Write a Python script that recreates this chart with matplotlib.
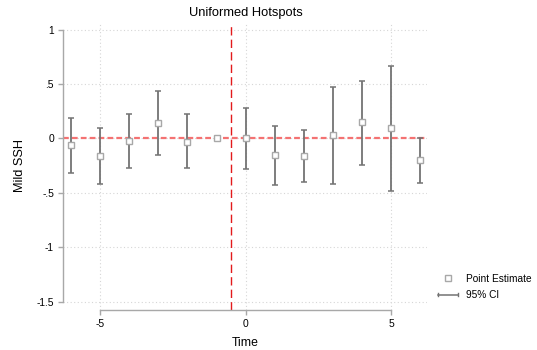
import numpy as np
import matplotlib
matplotlib.use("Agg")
import matplotlib.pyplot as plt
from matplotlib.lines import Line2D
from matplotlib.legend_handler import HandlerBase

plt.rcParams['font.family'] = ['Liberation Sans', 'DejaVu Sans']

# Event-study coefficients (reference period -1 normalised to zero)
time = [-6, -5, -4, -3, -2, -1, 0, 1, 2, 3, 4, 5, 6]
estimate = [-0.061, -0.162, -0.024, 0.143, -0.030, 0.0, 0.0, -0.156, -0.162, 0.030, 0.150, 0.092, -0.200]
ci_low = [-0.317, -0.418, -0.270, -0.152, -0.274, np.nan, -0.278, -0.430, -0.405, -0.417, -0.240, -0.484, -0.407]
ci_high = [0.190, 0.094, 0.220, 0.440, 0.220, np.nan, 0.280, 0.113, 0.080, 0.475, 0.530, 0.665, 0.000]

yticks = [1, 0.5, 0, -0.5, -1, -1.5]
ytick_labels = ["1", ".5", "0", "-.5", "-1", "-1.5"]
xticks = [-5, 0, 5]
xtick_labels = ["-5", "0", "5"]
treatment_line = -0.5

fig = plt.figure(figsize=(5.37, 3.5), dpi=100)
ax = fig.add_axes([63 / 537, 1 - 310 / 350, (427 - 63) / 537, (310 - 23) / 350])

ax.set_xlim(-6.28, 6.24)
ax.set_ylim(-1.577, 1.061)

# grid
for yv in yticks:
    ax.axhline(yv, color='#d6d6d6', lw=0.8, ls=(0, (1, 2.2)), zorder=0)
for xv in xticks:
    ax.axvline(xv, color='#d6d6d6', lw=0.8, ls=(0, (1, 2.2)), zorder=0)

# reference lines
ax.axhline(0, color='#f47272', lw=1.6, ls=(0, (2.6, 1.4)), zorder=1)
ax.axvline(treatment_line, color='#e31a1c', lw=1.0, ls=(0, (6, 3)), zorder=1)

t = np.array(time, dtype=float)
est = np.array(estimate)
lo = np.array(ci_low)
hi = np.array(ci_high)
mask = ~np.isnan(lo)

ax.errorbar(t[mask], est[mask], yerr=[est[mask] - lo[mask], hi[mask] - est[mask]],
            fmt='none', ecolor='#737373', elinewidth=1.3, capsize=2.4, capthick=1.1, zorder=2)
ax.plot(t, est, ls='none', marker='s', ms=4.6, mfc='white', mec='#a8a8a8', mew=1.0, zorder=3)

# axes styling
for side in ['top', 'right']:
    ax.spines[side].set_visible(False)
ax.spines['left'].set_bounds(-1.5, 1)
ax.spines['bottom'].set_bounds(-5, 5)
for side in ['left', 'bottom']:
    ax.spines[side].set_color('#a8a8a8')
    ax.spines[side].set_linewidth(1.0)

ax.set_yticks(yticks)
ax.set_yticklabels(ytick_labels)
ax.set_xticks(xticks)
ax.set_xticklabels(xtick_labels)
ax.tick_params(axis='both', colors='#a8a8a8', labelcolor='black', labelsize=7.4,
               length=3.5, width=1.0, pad=3)

ax.set_xlabel("Time", fontsize=8.8, labelpad=6)
fig.text(20 / 537, 1 - 166 / 350, "Mild SSH", rotation=90, fontsize=9.2,
         ha='center', va='center')
fig.text(245.5 / 537, 1 - 13 / 350, "Uniformed Hotspots", fontsize=9.3,
         ha='center', va='center')


class CapLineHandler(HandlerBase):
    def create_artists(self, legend, orig_handle, xdescent, ydescent, width, height, fontsize, trans):
        y = height / 2 - ydescent
        h = height * 0.45
        x0, x1 = -xdescent, -xdescent + width
        artists = [Line2D([x0, x1], [y, y], color='#737373', lw=1.1),
                   Line2D([x0, x0], [y - h / 2, y + h / 2], color='#737373', lw=1.0),
                   Line2D([x1, x1], [y - h / 2, y + h / 2], color='#737373', lw=1.0)]
        for a in artists:
            a.set_transform(trans)
        return artists


pe = Line2D([], [], ls='none', marker='s', ms=4.6, mfc='white', mec='#a8a8a8', mew=1.0)
ci = Line2D([], [], color='#737373')
leg = fig.legend([pe, ci], ["Point Estimate", "95% CI"], loc='upper left',
                 bbox_to_anchor=(438 / 537, 1 - 274 / 350), frameon=False, fontsize=7.3,
                 handlelength=2.0, handletextpad=0.8, labelspacing=0.6,
                 borderaxespad=0, borderpad=0,
                 handler_map={ci: CapLineHandler()})

fig.savefig("out.png", dpi=100)
